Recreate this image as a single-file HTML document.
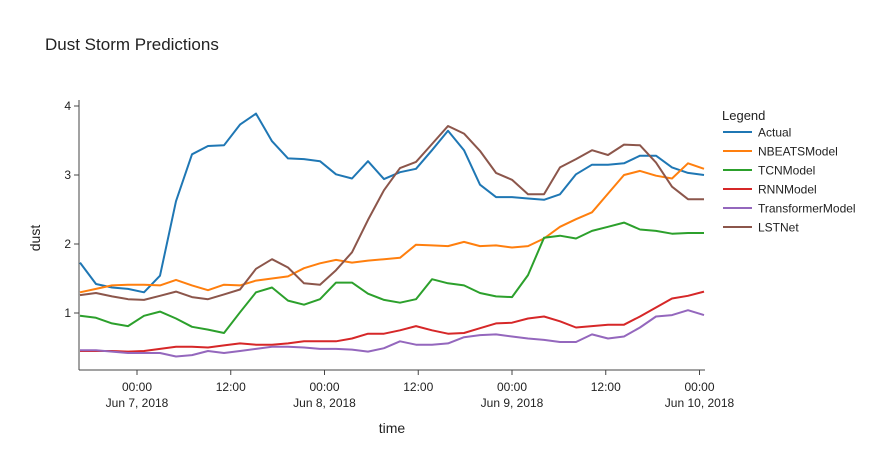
<!DOCTYPE html>
<html><head><meta charset="utf-8"><style>
body{margin:0;background:#fff;}
svg{display:block;font-family:"Liberation Sans",Arial,sans-serif;}
</style></head><body>
<svg id="chart" width="883" height="450">
<text x="45" y="50" font-size="17" fill="#222">Dust Storm Predictions</text>
<g id="axes"></g>
<g id="series"></g>
<text x="392" y="433" font-size="14" fill="#222" text-anchor="middle">time</text>
<text transform="translate(40,238) rotate(-90)" font-size="14" fill="#222" text-anchor="middle">dust</text>
<g id="legend"><text x="722" y="120" font-size="13" fill="#222">Legend</text></g>
</svg>
<script>
const startHour = -7.3, stepHour = 2.048;
const seriesNames = ["Actual","NBEATSModel","TCNModel","RNNModel","TransformerModel","LSTNet"];
const seriesColors = ["#1f77b4","#ff7f0e","#2ca02c","#d62728","#9467bd","#8c564b"];
const actual = [1.73,1.42,1.37,1.35,1.30,1.54,2.62,3.30,3.42,3.43,3.73,3.89,3.49,3.24,3.23,3.20,3.01,2.95,3.20,2.94,3.04,3.09,3.36,3.64,3.36,2.86,2.68,2.68,2.66,2.64,2.72,3.01,3.15,3.15,3.17,3.28,3.28,3.11,3.03,3.00];
const nbeats = [1.30,1.35,1.40,1.41,1.41,1.40,1.48,1.40,1.33,1.41,1.40,1.47,1.50,1.53,1.65,1.72,1.77,1.73,1.76,1.78,1.80,1.99,1.98,1.97,2.03,1.97,1.98,1.95,1.97,2.08,2.25,2.36,2.46,2.73,3.00,3.06,2.99,2.95,3.17,3.09];
const tcn = [0.96,0.93,0.85,0.81,0.96,1.02,0.92,0.80,0.76,0.71,1.01,1.30,1.37,1.18,1.12,1.20,1.44,1.44,1.28,1.19,1.15,1.20,1.49,1.43,1.40,1.29,1.24,1.23,1.55,2.09,2.12,2.08,2.19,2.25,2.31,2.21,2.19,2.15,2.16,2.16];
const rnn = [0.45,0.45,0.45,0.44,0.45,0.48,0.51,0.51,0.50,0.53,0.56,0.54,0.54,0.56,0.59,0.59,0.59,0.63,0.70,0.70,0.75,0.81,0.75,0.70,0.71,0.78,0.85,0.86,0.92,0.95,0.88,0.79,0.81,0.83,0.83,0.95,1.08,1.21,1.25,1.31];
const transformer = [0.46,0.46,0.44,0.42,0.42,0.42,0.37,0.39,0.45,0.42,0.45,0.48,0.51,0.51,0.50,0.48,0.48,0.47,0.44,0.49,0.59,0.54,0.54,0.56,0.65,0.68,0.69,0.66,0.63,0.61,0.58,0.58,0.69,0.63,0.66,0.79,0.95,0.97,1.04,0.97];
const lstnet = [1.26,1.29,1.24,1.20,1.19,1.25,1.31,1.23,1.20,1.27,1.34,1.64,1.78,1.66,1.43,1.41,1.62,1.88,2.35,2.78,3.10,3.19,3.45,3.71,3.60,3.35,3.03,2.93,2.72,2.72,3.11,3.23,3.36,3.29,3.44,3.43,3.18,2.83,2.65,2.65];
const yTicks = [1,2,3,4];
const xTickHours = [0,12,24,36,48,60,72];
const xTickTop = ["00:00","12:00","00:00","12:00","00:00","12:00","00:00"];
const xTickBottom = ["Jun 7, 2018","","Jun 8, 2018","","Jun 9, 2018","","Jun 10, 2018"];
const allSeries = [actual,nbeats,tcn,rnn,transformer,lstnet];

const NS="http://www.w3.org/2000/svg";
const L=80,R=705,T=100,B=370;
const yMin=0.174,yMax=4.087;
const xHour=h=>137+h*7.8125;
const yVal=v=>B-(v-yMin)/(yMax-yMin)*(B-T);
function mk(tag,attrs,parent){const e=document.createElementNS(NS,tag);for(const k in attrs)e.setAttribute(k,attrs[k]);parent.appendChild(e);return e;}
const axes=document.getElementById('axes');
const xl=mk('line',{x1:L-1,x2:R,y1:B,y2:B,stroke:'#444','stroke-width':1},axes);


const yl=mk('line',{x1:L-1,x2:L-1,y1:T,y2:B,stroke:'#444','stroke-width':1},axes);


yTicks.forEach(v=>{const y=yVal(v);
 mk('line',{x1:L-6,x2:L-1,y1:y,y2:y,stroke:'#444'},axes);
 const t=mk('text',{x:L-9,y:y+4,'font-size':12,fill:'#222','text-anchor':'end'},axes);t.textContent=v;
 
 
});
xTickHours.forEach((h,i)=>{const x=xHour(h);if(x>R+1)return;
 mk('line',{x1:x,x2:x,y1:B,y2:B+5,stroke:'#444'},axes);
 const t=mk('text',{x:x,y:B+21,'font-size':12,fill:'#222','text-anchor':'middle'},axes);t.textContent=xTickTop[i];
 
 
 if(xTickBottom[i]){const t2=mk('text',{x:x,y:B+37,'font-size':12,fill:'#222','text-anchor':'middle'},axes);t2.textContent=xTickBottom[i];
 
 }
});
const sg=document.getElementById('series');
allSeries.forEach((arr,si)=>{
 const pts=arr.map((v,i)=>xHour(startHour+i*stepHour).toFixed(1)+','+yVal(v).toFixed(1)).join(' ');
 const p=mk('polyline',{points:pts,fill:'none',stroke:seriesColors[si],'stroke-width':2,'stroke-linejoin':'round'},sg);
 
 
});
const lg=document.getElementById('legend');
seriesNames.forEach((n,i)=>{const y=132+i*19;
 const g=mk('g',{},lg);
 
 
 mk('line',{x1:723,x2:752,y1:y,y2:y,stroke:seriesColors[i],'stroke-width':2},g);
 const t=mk('text',{x:758,y:y+4.5,'font-size':12,fill:'#222'},g);t.textContent=n;
});
</script>
</body></html>
